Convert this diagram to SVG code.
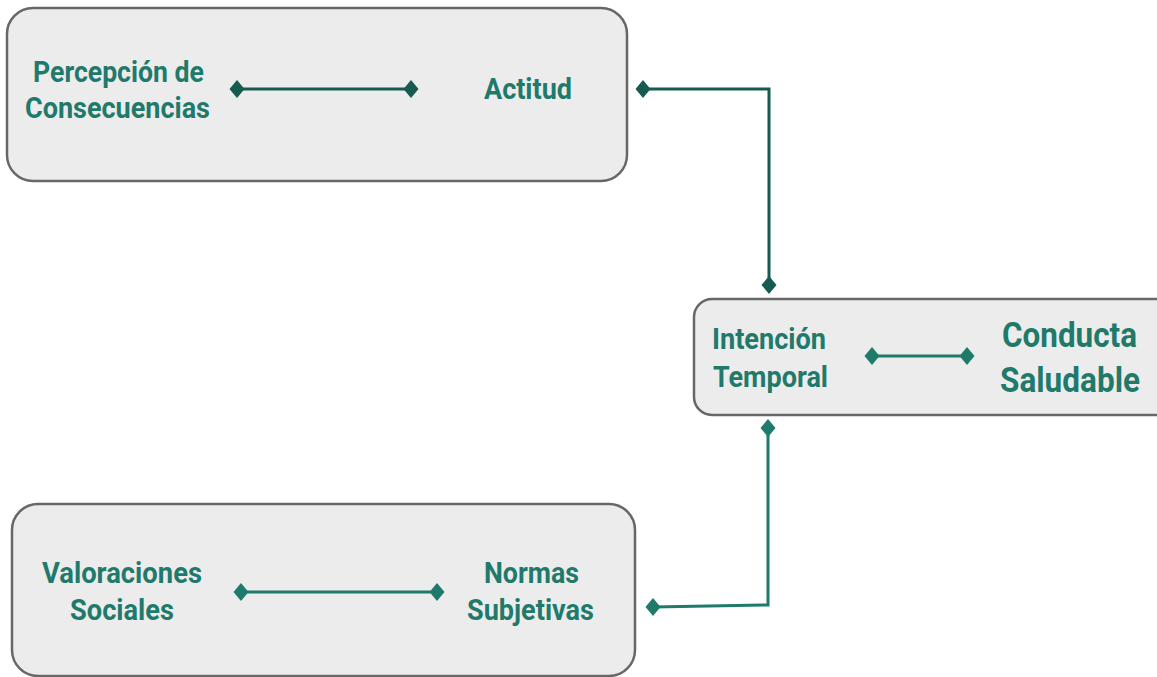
<svg xmlns="http://www.w3.org/2000/svg" width="1157" height="677" viewBox="0 0 1157 677">
<style>
.box{fill:#ececec;stroke:#676767;stroke-width:2.5}
.t{font-family:Roboto,"Liberation Sans",sans-serif;font-weight:bold;fill:#1f7a6b;font-size:30px}
.big{font-size:35px}
.c1{fill:none;stroke:#175a50;stroke-width:3}
.c2{fill:none;stroke:#1e7b6c;stroke-width:3}
.d1{fill:#175a50}
.d2{fill:#1e7b6c}
</style>
<defs>
<path id="dm" d="M0,-9 L7.5,0 L0,9 L-7.5,0 Z"/>
</defs>
<g id="node-top">
<rect class="box" x="7" y="8" width="620" height="173" rx="26"/>
<text class="t" x="33" y="82" textLength="171" lengthAdjust="spacingAndGlyphs">Percepción de</text>
<text class="t" x="25" y="118" textLength="185" lengthAdjust="spacingAndGlyphs">Consecuencias</text>
<text class="t" x="484" y="99" textLength="88" lengthAdjust="spacingAndGlyphs">Actitud</text>
</g>
<g id="node-middle">
<rect class="box" x="694" y="299" width="480" height="116" rx="18"/>
<text class="t" x="712" y="349" textLength="114" lengthAdjust="spacingAndGlyphs">Intención</text>
<text class="t" x="713" y="387" textLength="115" lengthAdjust="spacingAndGlyphs">Temporal</text>
<text class="t big" x="1002" y="347" textLength="135" lengthAdjust="spacingAndGlyphs">Conducta</text>
<text class="t big" x="1000" y="392" textLength="140" lengthAdjust="spacingAndGlyphs">Saludable</text>
</g>
<g id="node-bottom">
<rect class="box" x="12" y="504" width="623" height="172" rx="26"/>
<text class="t" x="42" y="583" textLength="160" lengthAdjust="spacingAndGlyphs">Valoraciones</text>
<text class="t" x="70" y="620" textLength="104" lengthAdjust="spacingAndGlyphs">Sociales</text>
<text class="t" x="484" y="583" textLength="95" lengthAdjust="spacingAndGlyphs">Normas</text>
<text class="t" x="467" y="620" textLength="127" lengthAdjust="spacingAndGlyphs">Subjetivas</text>
</g>
<g id="connectors">
<path class="c1" d="M237,89 H411"/>
<use href="#dm" class="d1" x="237" y="89"/>
<use href="#dm" class="d1" x="411" y="89"/>
<path class="c1" d="M643,89 H769 V285"/>
<use href="#dm" class="d1" x="643" y="89"/>
<use href="#dm" class="d1" x="769" y="285"/>
<path class="c2" d="M872,356 H967"/>
<use href="#dm" class="d2" x="872" y="356"/>
<use href="#dm" class="d2" x="967" y="356"/>
<path class="c2" d="M768,428 V605 L653,607"/>
<use href="#dm" class="d2" x="768" y="428"/>
<use href="#dm" class="d2" x="653" y="607"/>
<path class="c2" d="M241,592 H437"/>
<use href="#dm" class="d2" x="241" y="592"/>
<use href="#dm" class="d2" x="437" y="592"/>
</g>
</svg>
